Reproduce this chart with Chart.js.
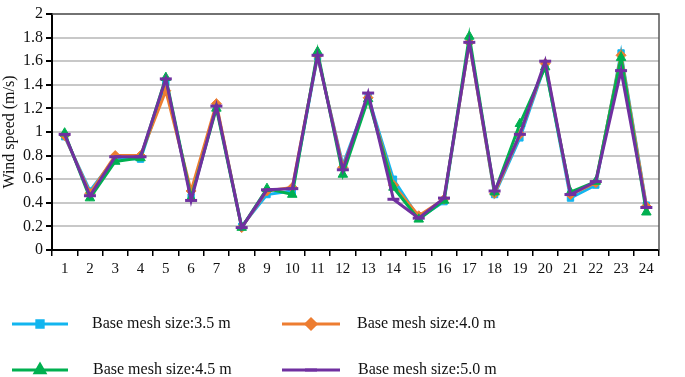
<!DOCTYPE html>
<html>
<head>
<meta charset="utf-8">
<script src="https://cdn.jsdelivr.net/npm/chart.js@4/dist/chart.umd.min.js"></script>
<style>
  html, body { margin: 0; padding: 0; background: #fff; }
  #wrap { width: 685px; height: 377px; position: relative; }
</style>
</head>
<body>
<div id="wrap"><canvas id="windChart"></canvas></div>
<script>
const points = ['1','2','3','4','5','6','7','8','9','10','11','12','13','14','15','16','17','18','19','20','21','22','23','24'];
const mesh35 = [0.96, 0.50, 0.78, 0.77, 1.42, 0.45, 1.22, 0.20, 0.47, 0.50, 1.64, 0.72, 1.30, 0.60, 0.27, 0.41, 1.77, 0.47, 0.95, 1.57, 0.44, 0.55, 1.67, 0.38];
const mesh40 = [0.97, 0.48, 0.80, 0.80, 1.35, 0.50, 1.24, 0.19, 0.50, 0.53, 1.65, 0.70, 1.29, 0.55, 0.29, 0.43, 1.76, 0.48, 0.98, 1.58, 0.47, 0.57, 1.65, 0.37];
const mesh45 = [0.99, 0.44, 0.75, 0.78, 1.46, 0.44, 1.20, 0.19, 0.52, 0.47, 1.68, 0.64, 1.28, 0.53, 0.26, 0.42, 1.81, 0.49, 1.07, 1.55, 0.49, 0.58, 1.63, 0.32];
const mesh50 = [0.98, 0.46, 0.79, 0.79, 1.45, 0.42, 1.22, 0.19, 0.51, 0.52, 1.65, 0.68, 1.33, 0.43, 0.27, 0.44, 1.76, 0.50, 0.98, 1.60, 0.47, 0.58, 1.52, 0.36];
const seriesNames = ['Base mesh size:3.5 m', 'Base mesh size:4.0 m', 'Base mesh size:4.5 m', 'Base mesh size:5.0 m'];

const serif = "'Liberation Serif', 'Times New Roman', serif";

function makeSet(label, data, color, style, radius, order) {
    return {
        label: label,
        data: data,
        borderColor: color,
        backgroundColor: color,
        borderWidth: 3,
        pointStyle: style,
        pointRadius: radius,
        pointBorderWidth: style === 'line' ? 3 : 1,
        pointBackgroundColor: color,
        pointBorderColor: color,
        tension: 0,
        order: order
    };
}

const datasets = [
    makeSet(seriesNames[0], mesh35, '#12b5ef', 'rect', 4.5, 3),
    makeSet(seriesNames[1], mesh40, '#ed7d31', 'rectRot', 5, 2),
    makeSet(seriesNames[2], mesh45, '#00b050', 'triangle', 5.5, 1),
    makeSet(seriesNames[3], mesh50, '#7030a0', 'line', 6, 0)
];

// frame on top and right, plus the legend laid out in two columns
const extras = {
    id: 'extras',
    afterDraw(chart) {
        const ctx = chart.ctx;
        const a = chart.chartArea;
        ctx.save();
        ctx.strokeStyle = '#555';
        ctx.lineWidth = 1.5;
        ctx.beginPath();
        ctx.moveTo(a.left, a.top);
        ctx.lineTo(a.right, a.top);
        ctx.lineTo(a.right, a.bottom);
        ctx.stroke();

        const spots = [
            {x0: 12, x1: 68, y: 324, tx: 92},
            {x0: 282, x1: 340, y: 324, tx: 357},
            {x0: 12, x1: 68, y: 370, tx: 93},
            {x0: 282, x1: 340, y: 370, tx: 358}
        ];
        ctx.font = "16px " + serif;
        ctx.textBaseline = 'middle';
        ctx.textAlign = 'left';
        datasets.forEach(function(ds, i) {
            const s = spots[i];
            ctx.strokeStyle = ds.borderColor;
            ctx.fillStyle = ds.borderColor;
            ctx.lineWidth = 3;
            ctx.beginPath();
            ctx.moveTo(s.x0, s.y);
            ctx.lineTo(s.x1, s.y);
            ctx.stroke();
            Chart.helpers.drawPoint(ctx, {
                pointStyle: ds.pointStyle,
                radius: ds.pointRadius,
                borderWidth: ds.pointBorderWidth,
                rotation: 0
            }, (s.x0 + s.x1) / 2, s.y);
            ctx.fillStyle = '#111';
            ctx.fillText(ds.label, s.tx, s.y);
        });
        ctx.restore();
    }
};

new Chart(document.getElementById('windChart'), {
    type: 'line',
    data: { labels: points, datasets: datasets },
    options: {
        responsive: true,
        maintainAspectRatio: false,
        animation: false,
        layout: { padding: { left: 0, right: 26, top: 14, bottom: 97 } },
        plugins: { legend: { display: false }, tooltip: { enabled: false } },
        scales: {
            x: {
                offset: true,
                grid: { offset: true, drawOnChartArea: false, drawTicks: true, tickLength: 6, color: '#000', lineWidth: 1.5 },
                border: { color: '#000', width: 2 },
                ticks: { color: '#111', font: { family: serif, size: 15 }, padding: 4, maxRotation: 0, autoSkip: false },
                afterFit: function(axis) { axis.height = 30; }
            },
            y: {
                min: 0,
                max: 2,
                ticks: {
                    stepSize: 0.2,
                    color: '#111',
                    font: { family: serif, size: 16 },
                    padding: 3,
                    callback: function(v) { return Math.round(v * 10) / 10; }
                },
                grid: { color: '#c8c8c8', lineWidth: 2, tickColor: '#000', tickLength: 6, drawTicks: true },
                border: { color: '#000', width: 2 },
                title: { display: true, text: 'Wind speed (m/s)', color: '#111', font: { family: serif, size: 16 }, padding: 0 },
                afterFit: function(axis) { axis.width = 52; }
            }
        }
    },
    plugins: [extras]
});
</script>
</body>
</html>
